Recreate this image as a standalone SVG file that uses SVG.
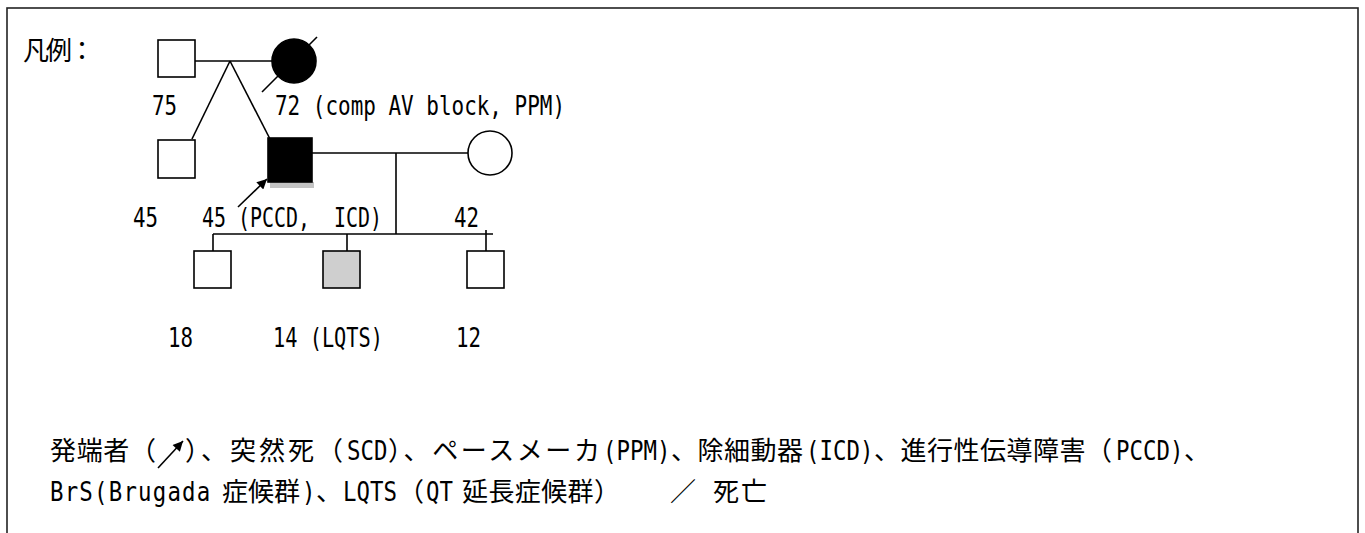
<svg xmlns="http://www.w3.org/2000/svg" width="1365" height="533" viewBox="0 0 1365 533">
<style>
.t{font-family:"DejaVu Sans Mono","Liberation Mono",monospace;font-size:26px;fill:#000}
.m{font-family:"DejaVu Sans Mono","Liberation Mono",monospace;font-size:22.4px;fill:#000}
.j{font-family:"Noto Sans CJK JP","Noto Sans CJK SC",sans-serif;font-size:26px;fill:#000}
.ln{stroke:#000;stroke-width:1.6;fill:none}
.box{stroke:#000;stroke-width:1.6;fill:#fff}
.aff{stroke:#000;stroke-width:1.6;fill:#000}
.car{stroke:#000;stroke-width:1.6;fill:#cfcfcf}
</style>
<defs>
<marker id="ah" viewBox="0 0 10 10" refX="10" refY="5" markerWidth="13" markerHeight="10" markerUnits="userSpaceOnUse" orient="auto"><path d="M0,0 L10,5 L0,10 z" fill="#000"/></marker>
</defs>
<rect width="1365" height="533" fill="#fff"/>
<rect x="7" y="8" width="1351" height="540" fill="none" stroke="#222" stroke-width="1.6"/>
<text class="j" x="23" y="60" textLength="72">凡例：</text>

<g id="connectors">
<line class="ln" x1="195" y1="61" x2="272" y2="61"/>
<line class="ln" x1="230" y1="61" x2="192" y2="139"/>
<line class="ln" x1="230" y1="61" x2="270" y2="139"/>
<line class="ln" x1="312" y1="153" x2="468" y2="153"/>
<line class="ln" x1="396" y1="153" x2="396" y2="234"/>
<line class="ln" x1="213" y1="234" x2="493" y2="234"/>
<line class="ln" x1="213" y1="234" x2="213" y2="257"/>
<line class="ln" x1="347" y1="234" x2="347" y2="251"/>
<line class="ln" x1="486" y1="230" x2="486" y2="251"/>
<line class="ln" x1="238" y1="207" x2="267" y2="179" marker-end="url(#ah)"/>
</g>

<g id="grandfather">
<rect class="box" x="158" y="40" width="37" height="37"/>
<text class="t" x="152" y="115" textLength="25" lengthAdjust="spacingAndGlyphs">75</text>
</g>
<g id="grandmother">
<circle class="aff" cx="294" cy="61" r="22"/>
<line class="ln" x1="262" y1="92" x2="317" y2="37"/>
<text class="t" x="275" y="115" textLength="290" lengthAdjust="spacingAndGlyphs" xml:space="preserve">72 (comp AV block, PPM)</text>
</g>
<g id="uncle">
<rect class="box" x="158" y="140" width="37" height="38"/>
<text class="t" x="133" y="227" textLength="25" lengthAdjust="spacingAndGlyphs">45</text>
</g>
<g id="proband">
<rect x="270" y="182" width="44" height="6" fill="#c4c4c4"/>
<rect class="aff" x="268" y="138" width="44" height="44"/>
<text class="t" x="202" y="227" textLength="180" lengthAdjust="spacingAndGlyphs" xml:space="preserve">45 (PCCD,  ICD)</text>
</g>
<g id="spouse">
<circle class="box" cx="490" cy="153" r="22"/>
<text class="t" x="454" y="227" textLength="25" lengthAdjust="spacingAndGlyphs">42</text>
</g>
<g id="child1">
<rect class="box" x="194" y="251" width="37" height="37"/>
<text class="t" x="168" y="347" textLength="25" lengthAdjust="spacingAndGlyphs">18</text>
</g>
<g id="child2">
<rect class="car" x="323" y="251" width="37" height="37"/>
<text class="t" x="273" y="347" textLength="110" lengthAdjust="spacingAndGlyphs" xml:space="preserve">14 (LQTS)</text>
</g>
<g id="child3">
<rect class="box" x="467" y="251" width="37" height="37"/>
<text class="t" x="456" y="347" textLength="25" lengthAdjust="spacingAndGlyphs">12</text>
</g>

<g id="legend">
<line class="ln" x1="158" y1="468" x2="183" y2="441" marker-end="url(#ah)"/>
<text class="j" x="50" y="460" textLength="106">発端者（</text>
<text class="j" x="185" y="460" textLength="158">）、突然死（</text>
<text class="m" transform="translate(347,460) scale(1,1.17)">SCD</text>
<text class="j" x="388" y="460" textLength="212">）、ペースメーカ</text>
<text class="m" transform="translate(603,460) scale(1,1.17)">(PPM)</text>
<text class="j" x="671" y="460" textLength="132">、除細動器</text>
<text class="m" transform="translate(806,460) scale(1,1.17)">(ICD)</text>
<text class="j" x="874" y="460" textLength="238">、進行性伝導障害（</text>
<text class="m" transform="translate(1116,460) scale(1,1.17)">PCCD)</text>
<text class="j" x="1184" y="460">、</text>

<text class="m" transform="translate(50,501) scale(1,1.17)" style="letter-spacing:1.2px">BrS(Brugada</text>
<text class="j" x="222" y="501" textLength="78">症候群</text>
<text class="m" transform="translate(302,501) scale(1,1.17)">)</text>
<text class="j" x="316" y="501">、</text>
<text class="m" transform="translate(343,501) scale(1,1.17)">LQTS</text>
<text class="j" x="398" y="501">（</text>
<text class="m" transform="translate(426,501) scale(1,1.17)">QT</text>
<text class="j" x="462" y="501" textLength="158">延長症候群）</text>
<text class="j" x="670" y="501">／</text>
<text class="j" x="713" y="501" textLength="54">死亡</text>
</g>
</svg>
